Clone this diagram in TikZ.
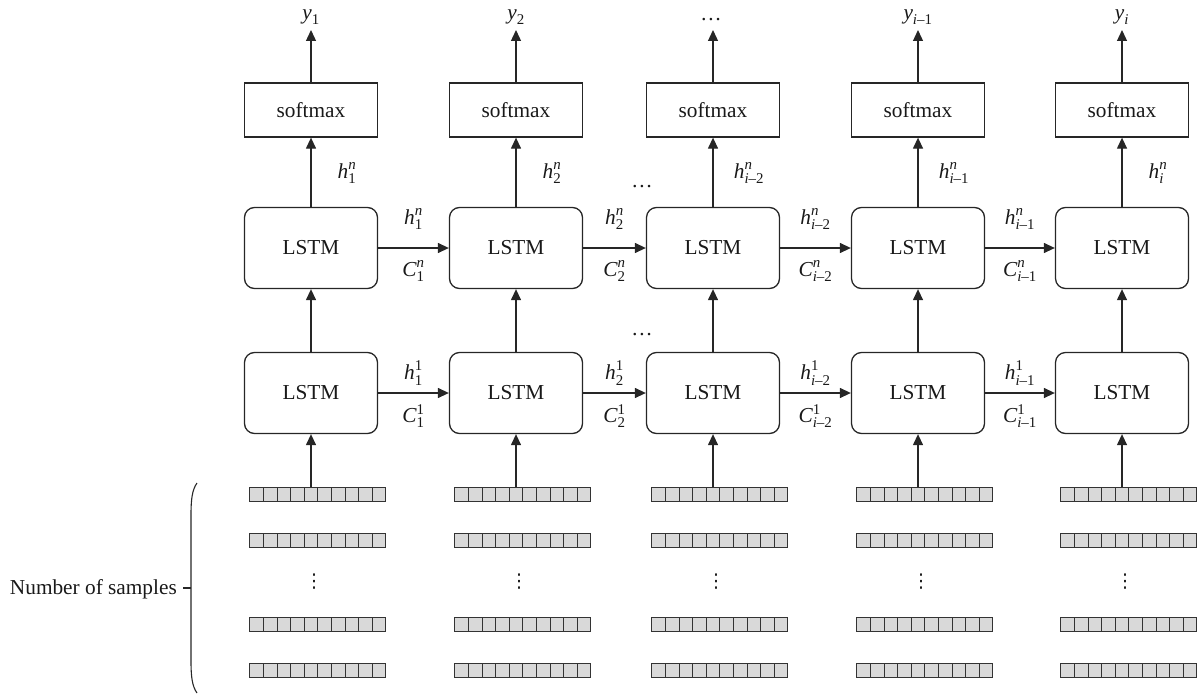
\documentclass[tikz,border=0pt]{standalone}
\usepackage{amsmath}
\usepackage{fontspec}
\setmainfont{Liberation Serif}
\newfontfamily\dvs{DejaVu Sans}
\usetikzlibrary{arrows.meta}
\newcommand{\hlab}[2]{$\textit{h}^{\textit{#1}}_{#2}$}
\newcommand{\clab}[2]{$\textit{C}^{\textit{#1}}_{#2}$}
\newcommand{\ylab}[1]{$\textit{y}_{#1}$}
\newcommand{\im}[1]{\textit{i}\textup{--#1}}
\begin{document}
\begin{tikzpicture}[x=1pt,y=-1pt,
  every node/.style={font=\fontsize{21.3}{25}\selectfont, text=black!90},
  wire/.style={draw=black!85, line width=1.3pt},
  arr/.style={wire, -{Triangle[length=11pt,width=10pt]}},
  lstm/.style={wire, rounded corners=10pt, minimum width=133pt, minimum height=81pt, inner sep=0pt},
  smax/.style={wire, minimum width=133pt, minimum height=54pt, inner sep=0pt},
  cell/.style={draw=black!80, line width=1pt, fill=black!15, minimum width=13.6pt, minimum height=14pt, inner sep=0pt},
  lab/.style={inner sep=0pt},
  vd/.style={inner sep=0pt, font=\dvs\fontsize{19}{19}\selectfont}]
\useasboundingbox (0,0) rectangle (1204,693);
% columns
\foreach \i/\x in {1/311,2/516,3/713,4/918,5/1122}{
  \node[smax] (sm\i) at (\x,110) {softmax};
  \node[lstm] (up\i) at (\x,248) {LSTM};
  \node[lstm] (lo\i) at (\x,393) {LSTM};
  \coordinate (top\i) at (\x,30);
  \foreach \r/\y in {1/494,2/540.5,4/624,5/670}{
    \foreach \k in {1,...,10}{
      \node[cell] (v\i-\r-\k) at ({\x+13.6*(\k-5)},\y) {};
    }
  }
  \node[vd] (vd\i) at ({\x+3},582) {⋮};
  \draw[arr] (v\i-1-5.north) -- (lo\i.south);
  \draw[arr] (lo\i.north) -- (up\i.south);
  \draw[arr] (up\i.north) -- (sm\i.south);
  \draw[arr] (sm\i.north) -- (top\i);
}
% outputs
\node[lab, anchor=south] (y1) at (311,25) {\ylab{\textup{1}}};
\node[lab, anchor=south] (y2) at (516,25) {\ylab{\textup{2}}};
\node[lab] (y3) at (711,20) {…};
\node[lab, anchor=south] (y4) at (918,25) {\ylab{\im{1}}};
\node[lab, anchor=south] (y5) at (1122,25) {\ylab{\textit{i}}};
% vertical h labels
\node[lab] (hv1) at (347,173) {\hlab{n}{\textup{1}}};
\node[lab] (hv2) at (552,173) {\hlab{n}{\textup{2}}};
\node[lab] (hv3) at (749,173) {\hlab{n}{\im{2}}};
\node[lab] (hv4) at (954,173) {\hlab{n}{\im{1}}};
\node[lab] (hv5) at (1158,173) {\hlab{n}{\textit{i}}};
% horizontal arrows
\foreach \a/\b in {1/2,2/3,3/4,4/5}{
  \draw[arr] (up\a.east) -- (up\b.west);
  \draw[arr] (lo\a.east) -- (lo\b.west);
}
% upper labels
\node[lab] (hu1) at (413.5,219) {\hlab{n}{\textup{1}}};
\node[lab] (cu1) at (413.5,271) {\clab{n}{\textup{1}}};
\node[lab] (hu2) at (614.5,219) {\hlab{n}{\textup{2}}};
\node[lab] (cu2) at (614.5,271) {\clab{n}{\textup{2}}};
\node[lab] (hu3) at (815.5,219) {\hlab{n}{\im{2}}};
\node[lab] (cu3) at (815.5,271) {\clab{n}{\im{2}}};
\node[lab] (hu4) at (1020,219) {\hlab{n}{\im{1}}};
\node[lab] (cu4) at (1020,271) {\clab{n}{\im{1}}};
% lower labels
\node[lab] (hl1) at (413.5,373) {\hlab{\textup{1}}{\textup{1}}};
\node[lab] (cl1) at (413.5,416) {\clab{\textup{1}}{\textup{1}}};
\node[lab] (hl2) at (614.5,373) {\hlab{\textup{1}}{\textup{2}}};
\node[lab] (cl2) at (614.5,416) {\clab{\textup{1}}{\textup{2}}};
\node[lab] (hl3) at (815.5,373) {\hlab{\textup{1}}{\im{2}}};
\node[lab] (cl3) at (815.5,416) {\clab{\textup{1}}{\im{2}}};
\node[lab] (hl4) at (1020,373) {\hlab{\textup{1}}{\im{1}}};
\node[lab] (cl4) at (1020,416) {\clab{\textup{1}}{\im{1}}};
% ellipses
\node[lab] (e1) at (642,187) {…};
\node[lab] (e2) at (642,335) {…};
% brace
\coordinate (bt) at (197,483);
\coordinate (bb) at (197,693);
\coordinate (bm) at (191,588);
\coordinate (bk) at (183,588);
\draw[wire, line width=1.1pt] (bt) .. controls (192,490) and (191,500) .. (191,515) -- (191,661) .. controls (191,676) and (192,686) .. (bb);
\draw[wire, line width=1.1pt] (bm) -- (bk);
\node[lab, anchor=east] (ns) at (177,589) {Number of samples};
\end{tikzpicture}
\end{document}
